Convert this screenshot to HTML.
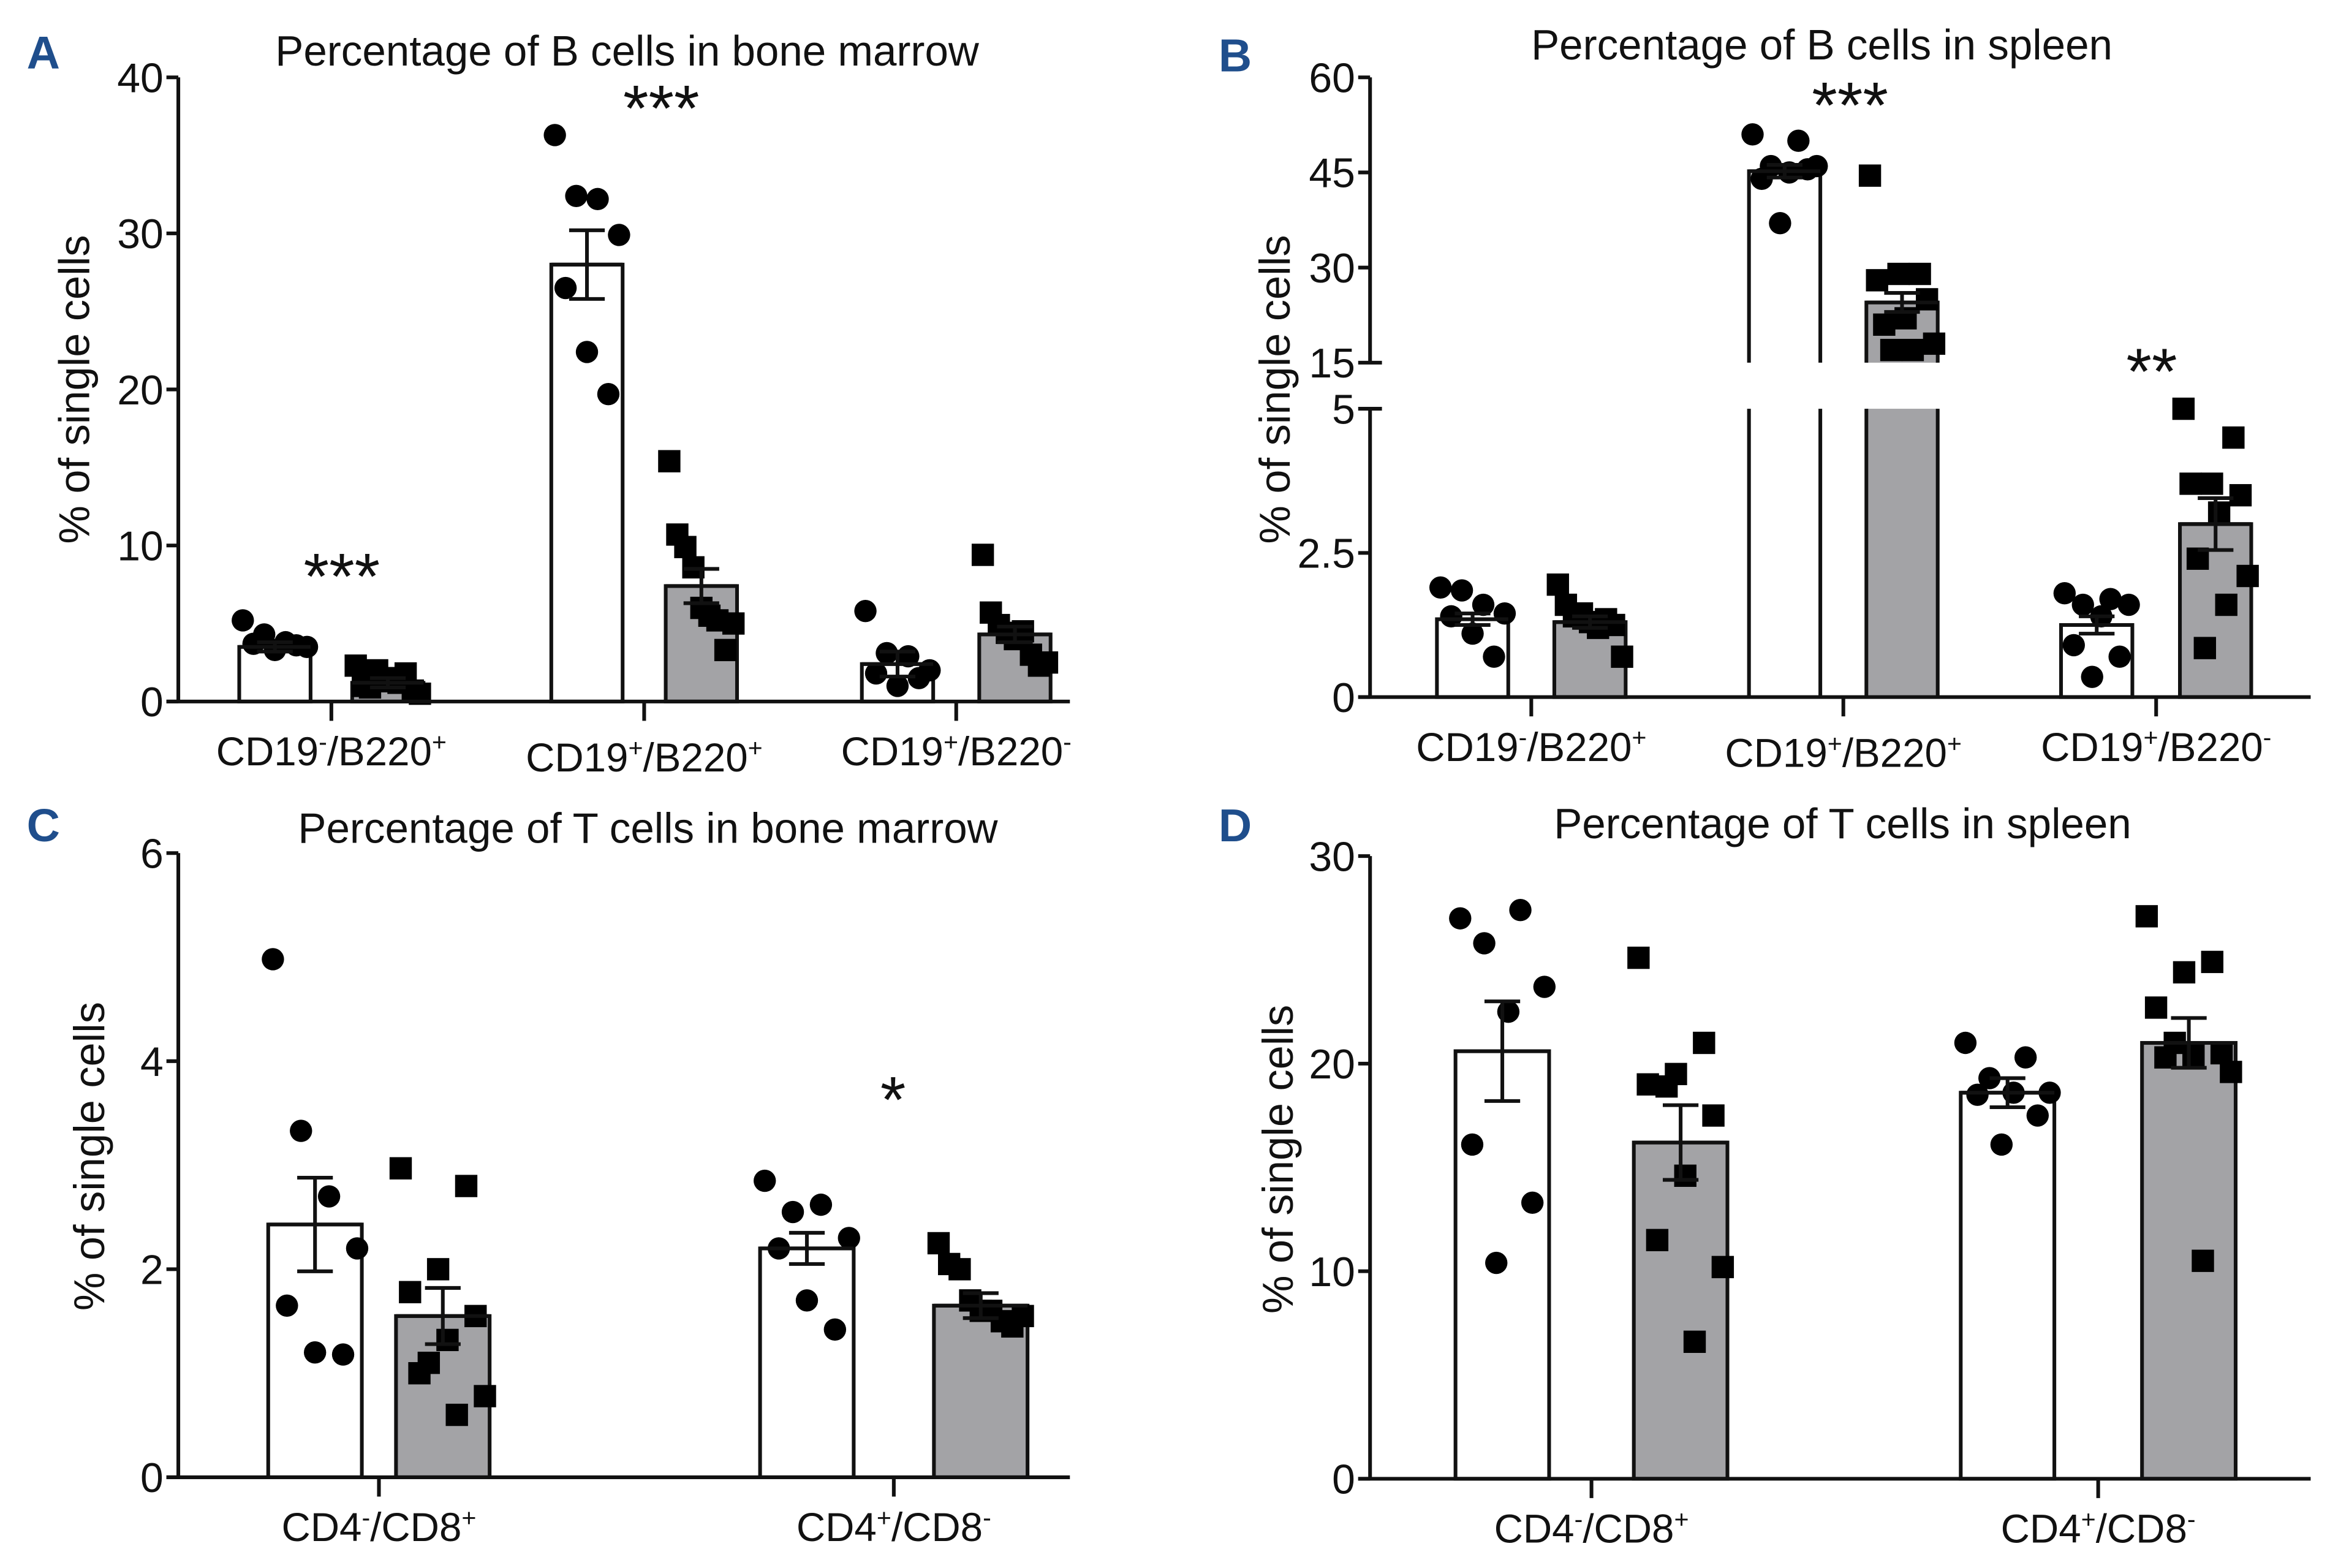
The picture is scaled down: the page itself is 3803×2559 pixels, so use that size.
<!DOCTYPE html>
<html><head><meta charset="utf-8"><style>
html,body{margin:0;padding:0;background:#fff}
svg{display:block}
text{font-family:"Liberation Sans",sans-serif;fill:#111}
</style></head><body>
<svg id="fig" width="3803" height="2559" viewBox="0 0 1568 1055" xmlns="http://www.w3.org/2000/svg"></svg>
<script>
// ---- data ----
const catsA = [["CD19","-","/B220","+"],["CD19","+","/B220","+"],["CD19","+","/B220","-"]];
const catsT = [["CD4","-","/CD8","+"],["CD4","+","/CD8","-"]];
const meanA = [[3.5,1.2],[28,7.4],[2.4,4.3]];
const semA = [[0.3,0.3],[2.2,1.1],[0.8,0.5]];
const ptsA = [
 [[5.2,4.3,3.8,3.5,3.7,3.3,3.6],[2.3,1.8,1.5,1.0,0.7,1.3,0.9,0.5,1.2,2.0]],
 [[36.3,32.4,32.2,29.9,26.5,22.4,19.7],[15.4,10.7,9.9,8.6,6.0,5.5,5.2,3.3,5.0]],
 [[5.8,3.1,2.9,2.0,1.8,1.0,1.5],[9.4,5.7,4.9,4.4,4.0,4.5,3.0,2.3,2.5]]];
const meanB = [[1.35,1.3],[45.2,24.5],[1.25,3.0]];
const semB = [[0.1,0.1],[1.0,1.5],[0.15,0.45]];
const ptsB = [
 [[1.9,1.85,1.6,1.45,1.4,1.1,0.7],[1.95,1.6,1.4,1.45,1.3,1.2,1.35,1.25,0.7]],
 [[51,50,46,46,45,44,45.5,37],[44.5,29,29,28,25,22,21,18,17,17]],
 [[1.8,1.7,1.6,1.6,1.4,0.9,0.7,0.35],[5,4.5,3.7,3.7,3.5,3.2,2.4,2.1,1.6,0.85]]];
const meanC = [[2.43,1.55],[2.2,1.65]];
const semC = [[0.45,0.27],[0.15,0.12]];
const ptsC = [
 [[4.98,3.33,2.7,2.2,1.65,1.2,1.18],[2.97,2.8,2.0,1.78,1.55,1.32,1.0,0.78,0.6,1.1]],
 [[2.85,2.55,2.62,2.3,2.2,1.7,1.42],[2.25,2.05,2.0,1.7,1.6,1.6,1.5,1.45,1.55]]];
const meanD = [[20.6,16.2],[18.6,21.0]];
const semD = [[2.4,1.8],[0.7,1.2]];
const ptsD = [
 [[27.0,27.4,25.8,23.7,22.5,16.1,13.3,10.4],[25.1,21.0,19.5,19.0,17.5,14.6,11.5,10.2,6.6,18.9]],
 [[21.0,20.3,19.3,18.6,18.6,18.5,17.5,16.1],[27.1,24.9,24.4,22.7,20.5,20.4,20.3,19.6,10.5,21.0]]];
const ticksA=["0","10","20","30","40"], ticksC=["0","2","4","6"], ticksD=["0","10","20","30"];

const NS="http://www.w3.org/2000/svg";
const svg=document.getElementById('fig');
function mk(tag,attrs,parent){const e=document.createElementNS(NS,tag);for(const k in attrs)e.setAttribute(k,attrs[k]);(parent||svg).appendChild(e);return e;}

function panel(cfg){
  const g=mk('g',{});
  
  
  const y=cfg.y;
  const L=mk('text',{x:cfg.letterX,y:cfg.letterY,'font-size':31,'font-weight':'bold',style:'fill:#1f4e8c'},g);L.textContent=cfg.letter;
  
  const T=mk('text',{x:cfg.titleX,y:cfg.titleY,'font-size':28.5,'text-anchor':'middle'},g);T.textContent=cfg.title;
  
  const YT=mk('text',{x:0,y:0,'font-size':29,'text-anchor':'middle',transform:`translate(${cfg.ytX},${cfg.ytY}) rotate(-90)`},g);YT.textContent='% of single cells';
  
  cfg.means.forEach((pair,ci)=>{
    pair.forEach((m,si)=>{
      const cx=cfg.barX[ci][si], w=cfg.barW;
      const base=y(0), top=y(m);
      if(cfg.brk && m>cfg.brk.lo){
        const r1=mk('rect',{x:cx-w/2,y:top,width:w,height:cfg.brk.yTop-top,fill:si?'#a3a3a6':'#fff',stroke:'none'},g);
        const r2=mk('rect',{x:cx-w/2,y:cfg.brk.yBot,width:w,height:base-cfg.brk.yBot,fill:si?'#a3a3a6':'#fff',stroke:'none'},g);
        
        
        mk('path',{d:`M${cx-w/2},${cfg.brk.yTop}V${top}H${cx+w/2}V${cfg.brk.yTop}M${cx-w/2},${cfg.brk.yBot}V${base}M${cx+w/2},${cfg.brk.yBot}V${base}`,fill:'none',stroke:'#111','stroke-width':2.5},g);
      } else {
        const r=mk('rect',{x:cx-w/2,y:top,width:w,height:base-top,fill:si?'#a3a3a6':'#fff',stroke:'#111','stroke-width':2.5},g);
        
      }
      const pts=cfg.pts[ci][si];
      pts.forEach((v,i)=>{
        const off=((i*37)%pts.length)/(pts.length-1||1)-0.5;
        const px=cx+off*(w*0.9), py=y(v);
        let p;
        if(si===0) p=mk('circle',{cx:px,cy:py,r:7.5,fill:'#000'},g);
        else p=mk('rect',{x:px-7.5,y:py-7.5,width:15,height:15,fill:'#000'},g);
        
      });
      const s=cfg.sems[ci][si], yt=y(m+s), yb=y(m-s);
      const e=mk('path',{d:`M${cx},${yt}V${yb}M${cx-12},${yt}H${cx+12}M${cx-12},${yb}H${cx+12}M${cx-w/2},${top}H${cx+w/2}`,stroke:'#111','stroke-width':2.5,fill:'none'},g);
      
    });
  });
  const ax=cfg.axX;
  let d;
  if(cfg.brk) d=`M${ax},${y(cfg.yMax)}V${cfg.brk.yTop}M${ax},${cfg.brk.yBot}V${y(0)}`;
  else d=`M${ax},${y(cfg.yMax)}V${y(0)}`;
  const ya=mk('path',{d:d,stroke:'#111','stroke-width':2.5,fill:'none'},g);
  
  const xa=mk('path',{d:`M${ax-8},${y(0)}H${cfg.axEnd}`,stroke:'#111','stroke-width':2.5,fill:'none'},g);
  
  cfg.ticks.forEach(t=>{
    const v=parseFloat(t), ty=y(v);
    const tl=(cfg.brk&&(v===cfg.brk.lo||v===cfg.brk.hi))?{x1:ax-8,x2:ax+8}:{x1:ax-8,x2:ax};
    mk('line',{x1:tl.x1,x2:tl.x2,y1:ty,y2:ty,stroke:'#111','stroke-width':2.5},g);
    const tx=mk('text',{x:ax-10,y:ty+10,'font-size':28,'text-anchor':'end'},g);tx.textContent=t;
    
  });
  cfg.cats.forEach((c,ci)=>{
    const cx=(cfg.barX[ci][0]+cfg.barX[ci][1])/2;
    mk('line',{x1:cx,x2:cx,y1:y(0),y2:y(0)+13,stroke:'#111','stroke-width':2.5},g);
    const tx=mk('text',{x:cx,y:y(0)+43+(cfg.catDy?cfg.catDy[ci]:0),'font-size':27,'text-anchor':'middle'},g);
    
    c.forEach((part,pi)=>{const ts=mk('tspan',pi%2?{'font-size':17,dy:-10}:(pi?{'font-size':27,dy:10}:{}),tx);ts.textContent=part;});
  });
  cfg.stars.forEach(s=>{const st=mk('text',{x:s[0],y:s[1],'font-size':44,'text-anchor':'middle'},g);st.textContent=s[2];
    });
}
const lin=(v0,p0,v1,p1)=>v=>p0+(v-v0)*(p1-p0)/(v1-v0);

panel({name:'panel-a',letter:'A',letterX:18,letterY:46,title:'Percentage of B cells in bone marrow',titleX:422,titleY:44,ytX:60,ytY:262,
 y:lin(0,472,40,52),yMax:40,axX:120,axEnd:720,barW:48,barX:[[185,261],[395,472],[604,683]],
 means:meanA,sems:semA,pts:ptsA,ticks:ticksA,cats:catsA,catDy:[0,4,0],stars:[[230,403,'***'],[445,88,'***']]});

const yB=v=> v>=15 ? lin(15,244,60,52)(v) : lin(0,469,5,275)(v);
const yBw=v=> v>5 && v<15 ? 244 : yB(v);
panel({name:'panel-b',letter:'B',letterX:820,letterY:48,title:'Percentage of B cells in spleen',titleX:1226,titleY:40,ytX:868,ytY:262,
 y:yBw,yMax:60,axX:922,axEnd:1555,barW:48,barX:[[991,1070],[1201,1280],[1411,1491]],brk:{lo:5,hi:15,yTop:244,yBot:275},
 means:meanB,sems:semB,pts:ptsB,ticks:["0","2.5","5","15","30","45","60"],cats:catsA,catDy:[0,4,0],stars:[[1245,86,'***'],[1448,265,'**']]});

panel({name:'panel-c',letter:'C',letterX:18,letterY:566,title:'Percentage of T cells in bone marrow',titleX:436,titleY:567,ytX:70,ytY:778,
 y:lin(0,994,6,574),yMax:6,axX:120,axEnd:720,barW:63,barX:[[212,298],[543,660]],
 means:meanC,sems:semC,pts:ptsC,ticks:ticksC,cats:catsT,stars:[[601,755,'*']]});

panel({name:'panel-d',letter:'D',letterX:820,letterY:566,title:'Percentage of T cells in spleen',titleX:1240,titleY:564,ytX:870,ytY:780,
 y:lin(0,995,30,576),yMax:30,axX:922,axEnd:1555,barW:63,barX:[[1011,1131],[1351,1473]],
 means:meanD,sems:semD,pts:ptsD,ticks:ticksD,cats:catsT,stars:[]});
</script>
</body></html>
